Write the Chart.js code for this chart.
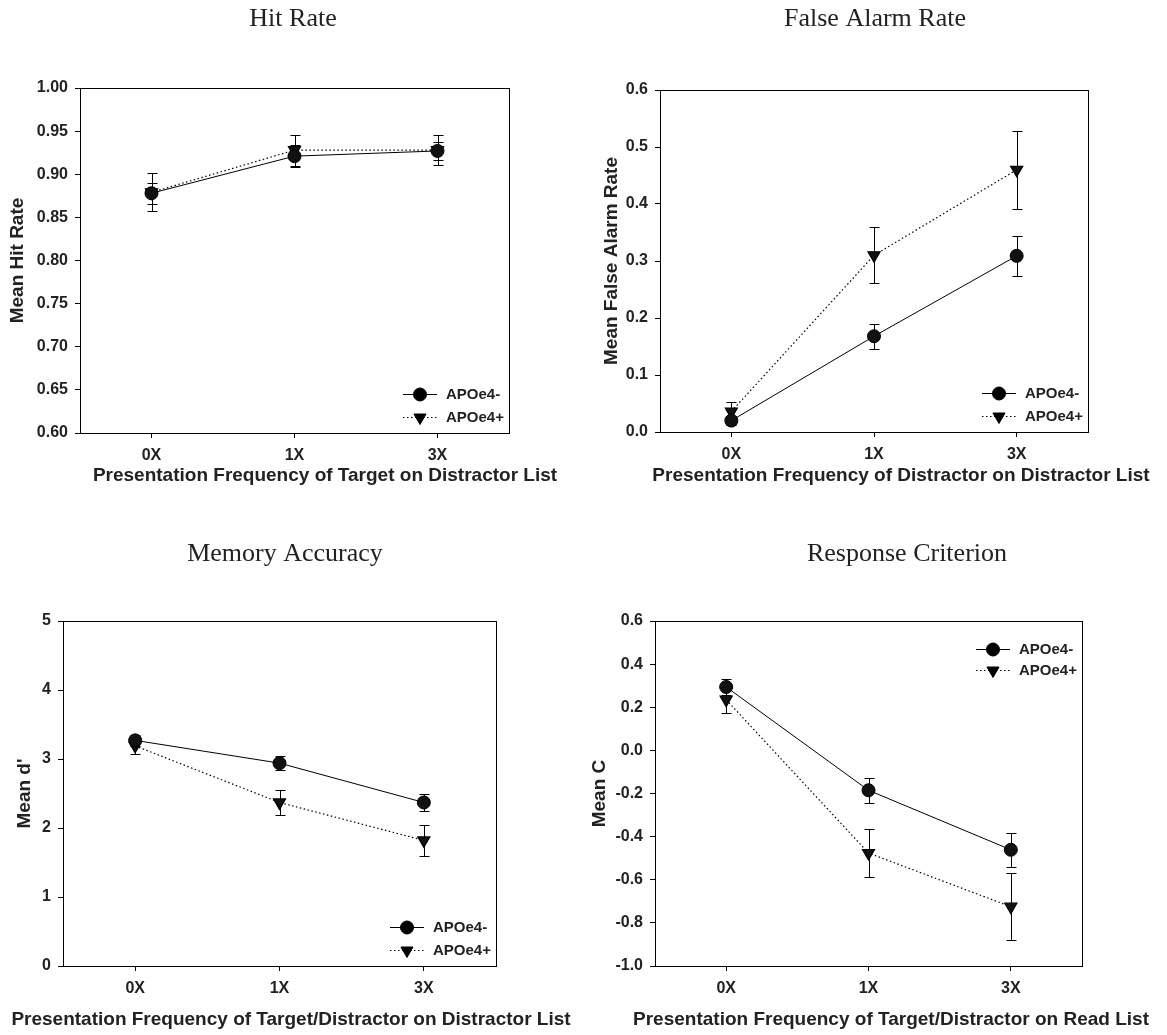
<!DOCTYPE html>
<html>
<head>
<meta charset="utf-8">
<script src="https://cdn.jsdelivr.net/npm/chart.js@4.4.0/dist/chart.umd.min.js"></script>
<style>
  body { margin: 0; background: #fff; }
  #wrap { position: relative; width: 1167px; height: 1035px; }
  canvas { position: absolute; }
</style>
</head>
<body>
<div id="wrap">
  <canvas id="hit" width="583" height="500" style="left:0;top:0"></canvas>
  <canvas id="fa" width="584" height="500" style="left:583px;top:0"></canvas>
  <canvas id="dprime" width="583" height="535" style="left:0;top:500px"></canvas>
  <canvas id="crit" width="584" height="535" style="left:583px;top:500px"></canvas>
</div>
<script>
var categories = ['0X', '1X', '3X'];
var groups = ['APOe4-', 'APOe4+'];

// hit rate
var hitNeg = [0.878, 0.921, 0.927];
var hitNegErr = [0.012, 0.013, 0.010];
var hitPos = [0.879, 0.928, 0.928];
var hitPosErr = [0.022, 0.018, 0.017];
var hitTicks = [0.60, 0.65, 0.70, 0.75, 0.80, 0.85, 0.90, 0.95, 1.00];

// false alarm rate
var faNeg = [0.020, 0.168, 0.309];
var faNegErr = [0.008, 0.022, 0.035];
var faPos = [0.036, 0.310, 0.460];
var faPosErr = [0.016, 0.049, 0.068];
var faTicks = [0.0, 0.1, 0.2, 0.3, 0.4, 0.5, 0.6];

// d'
var dNeg = [3.27, 2.94, 2.37];
var dNegErr = [0.08, 0.10, 0.125];
var dPos = [3.19, 2.37, 1.82];
var dPosErr = [0.12, 0.185, 0.23];
var dTicks = [0, 1, 2, 3, 4, 5];

// response criterion C
var cNeg = [0.294, -0.185, -0.461];
var cNegErr = [0.035, 0.057, 0.08];
var cPos = [0.235, -0.476, -0.725];
var cPosErr = [0.06, 0.11, 0.156];
var cTicks = [-1.0, -0.8, -0.6, -0.4, -0.2, 0.0, 0.2, 0.4, 0.6];

var sans = '"Liberation Sans", Arial, sans-serif';
var serif = '"Liberation Serif", "Times New Roman", serif';
var ink = '#222';

// frame, error bars, titles and the in-plot legend
var decor = {
  id: 'decor',
  beforeDatasetsDraw: function (chart) {
    var p = chart.options.plugins.decor;
    var ctx = chart.ctx, x = chart.scales.x, y = chart.scales.y;
    ctx.save();
    ctx.strokeStyle = '#000';
    ctx.lineWidth = 1;
    chart.data.datasets.forEach(function (ds, i) {
      ds.data.forEach(function (v, j) {
        var e = p.errors[i][j];
        var px = Math.round(x.getPixelForValue(j)) + 0.5;
        var top = Math.round(y.getPixelForValue(v + e)) + 0.5;
        var bot = Math.round(y.getPixelForValue(v - e)) + 0.5;
        ctx.beginPath();
        ctx.moveTo(px, top); ctx.lineTo(px, bot);
        ctx.moveTo(px - 5, top); ctx.lineTo(px + 5, top);
        ctx.moveTo(px - 5, bot); ctx.lineTo(px + 5, bot);
        ctx.stroke();
      });
    });
    ctx.restore();
  },
  afterDraw: function (chart) {
    var p = chart.options.plugins.decor;
    var ctx = chart.ctx, ca = chart.chartArea;
    ctx.save();
    ctx.strokeStyle = '#000';
    ctx.lineWidth = 1;
    ctx.strokeRect(Math.round(ca.left) + 0.5, Math.round(ca.top) + 0.5,
      Math.round(ca.right - ca.left), Math.round(ca.bottom - ca.top));

    ctx.fillStyle = ink;
    ctx.textAlign = 'center';
    ctx.textBaseline = 'middle';
    ctx.font = '26px ' + serif;
    ctx.fillText(p.title, p.titleX, p.titleY);
    ctx.font = 'bold 19px ' + sans;
    ctx.fillText(p.xTitle, p.xTitleX, p.xTitleY);

    // legend
    var rows = p.legendTop ? [ca.top + 28, ca.top + 49] : [ca.bottom - 39, ca.bottom - 16];
    chart.data.datasets.forEach(function (ds, i) {
      var ly = Math.round(rows[i]) + 0.5;
      ctx.setLineDash(ds.borderDash || []);
      ctx.beginPath();
      ctx.moveTo(ca.right - 106, ly);
      ctx.lineTo(ca.right - 72, ly);
      ctx.stroke();
      ctx.setLineDash([]);
      ctx.fillStyle = '#000';
      Chart.helpers.drawPoint(ctx, {
        pointStyle: ds.pointStyle, radius: ds.pointRadius,
        rotation: ds.pointRotation || 0, borderWidth: 1
      }, ca.right - 89, ly);
      ctx.fillStyle = ink;
      ctx.textAlign = 'left';
      ctx.font = 'bold 15px ' + sans;
      ctx.fillText(ds.label, ca.right - 63, ly);
    });
    ctx.restore();
  }
};

function makePanel(id, c) {
  new Chart(document.getElementById(id), {
    type: 'line',
    data: {
      labels: categories,
      datasets: [{
        label: groups[0],
        data: c.neg,
        borderColor: '#000',
        borderWidth: 1,
        pointStyle: 'circle',
        pointRadius: 6.5,
        pointBackgroundColor: '#111',
        pointBorderColor: '#000'
      }, {
        label: groups[1],
        data: c.pos,
        borderColor: '#000',
        borderWidth: 1.2,
        borderDash: [1.5, 2.5],
        pointStyle: 'triangle',
        pointRotation: 180,
        pointRadius: 7,
        pointBackgroundColor: '#111',
        pointBorderColor: '#000'
      }]
    },
    options: {
      responsive: false,
      animation: false,
      devicePixelRatio: 1,
      layout: { padding: { left: 0, top: c.padTop, right: c.padRight, bottom: 0 } },
      plugins: {
        legend: { display: false },
        tooltip: { enabled: false },
        decor: {
          errors: [c.negErr, c.posErr],
          title: c.title, titleX: c.titleX, titleY: c.titleY,
          xTitle: c.xTitle, xTitleX: c.xTitleX, xTitleY: c.xTitleY,
          legendTop: c.legendTop
        }
      },
      scales: {
        x: {
          type: 'category',
          offset: true,
          grid: { drawOnChartArea: false, offset: false, tickLength: 5, color: '#000' },
          border: { color: '#000' },
          ticks: { font: { family: sans, size: 16, weight: 'bold' }, color: ink, padding: 8, maxRotation: 0 },
          afterFit: function (s) { s.height = c.xHeight; }
        },
        y: {
          min: c.ticks[0],
          max: c.ticks[c.ticks.length - 1],
          afterBuildTicks: function (s) { s.ticks = c.ticks.map(function (v) { return { value: v }; }); },
          grid: { drawOnChartArea: false, tickLength: 5, color: '#000' },
          border: { color: '#000' },
          ticks: {
            font: { family: sans, size: 16, weight: 'bold' }, color: ink, padding: 7,
            callback: function (v) { return Number(v).toFixed(c.decimals); }
          },
          title: {
            display: true, text: c.yTitle, color: ink,
            font: { family: sans, size: 19, weight: 'bold' },
            padding: { top: c.yTitlePad, bottom: 0 }
          },
          afterFit: function (s) { s.width = c.yWidth; }
        }
      }
    },
    plugins: [decor]
  });
}

makePanel('hit', {
  neg: hitNeg, negErr: hitNegErr, pos: hitPos, posErr: hitPosErr,
  ticks: hitTicks, decimals: 2, yTitle: 'Mean Hit Rate',
  yWidth: 80, yTitlePad: 6, padTop: 88, padRight: 74, xHeight: 67,
  title: 'Hit Rate', titleX: 293, titleY: 19,
  xTitle: 'Presentation Frequency of Target on Distractor List', xTitleX: 325, xTitleY: 476,
  legendTop: false
});

makePanel('fa', {
  neg: faNeg, negErr: faNegErr, pos: faPos, posErr: faPosErr,
  ticks: faTicks, decimals: 1, yTitle: 'Mean False Alarm Rate',
  yWidth: 77, yTitlePad: 17, padTop: 90, padRight: 79, xHeight: 68,
  title: 'False Alarm Rate', titleX: 292, titleY: 19,
  xTitle: 'Presentation Frequency of Distractor on Distractor List', xTitleX: 318, xTitleY: 476,
  legendTop: false
});

makePanel('dprime', {
  neg: dNeg, negErr: dNegErr, pos: dPos, posErr: dPosErr,
  ticks: dTicks, decimals: 0, yTitle: "Mean d'",
  yWidth: 63, yTitlePad: 13, padTop: 121, padRight: 87, xHeight: 69,
  title: 'Memory Accuracy', titleX: 285, titleY: 54,
  xTitle: 'Presentation Frequency of Target/Distractor on Distractor List', xTitleX: 291, xTitleY: 1020 - 500,
  legendTop: false
});

makePanel('crit', {
  neg: cNeg, negErr: cNegErr, pos: cPos, posErr: cPosErr,
  ticks: cTicks, decimals: 1, yTitle: 'Mean C',
  yWidth: 72, yTitlePad: 5, padTop: 121, padRight: 85, xHeight: 69,
  title: 'Response Criterion', titleX: 324, titleY: 54,
  xTitle: 'Presentation Frequency of Target/Distractor on Read List', xTitleX: 308, xTitleY: 1020 - 500,
  legendTop: true
});
</script>
</body>
</html>
